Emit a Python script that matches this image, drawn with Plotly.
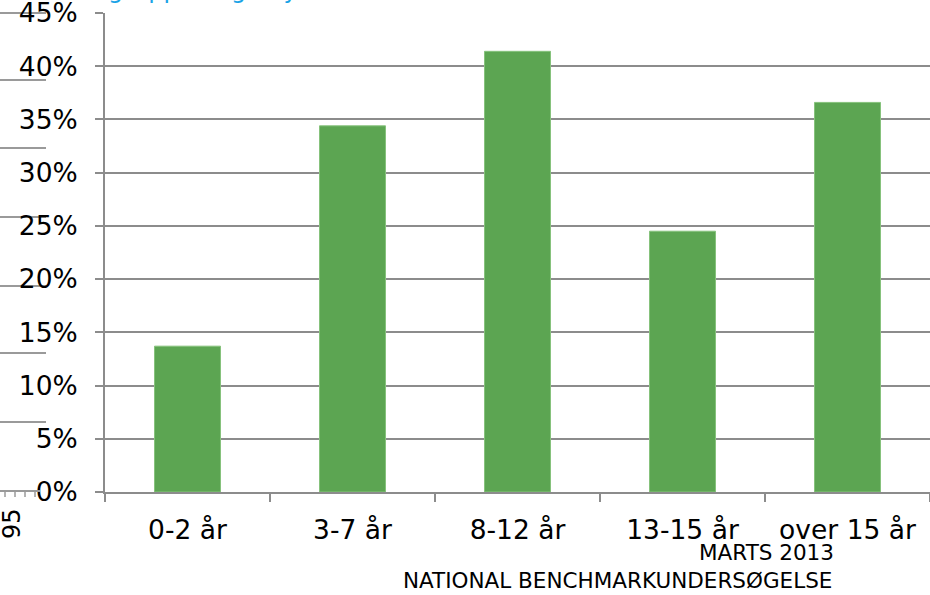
import plotly.graph_objects as go

categories = ["0-2 år", "3-7 år", "8-12 år", "13-15 år", "over 15 år"]
values = [13.7, 34.4, 41.4, 24.5, 36.6]
y_ticks = [0, 5, 10, 15, 20, 25, 30, 35, 40, 45]
y_tick_labels = ["0%", "5%", "10%", "15%", "20%", "25%", "30%", "35%", "40%", "45%"]
footer_date = "MARTS 2013"
footer_title = "NATIONAL BENCHMARKUNDERSØGELSE"
title_text = "gruppen og i byen"

W, H = 930, 595
L, R, T, B = 105, 0, 13, 103
PW, PH = W - L - R, H - T - B


def px(x):
    return (x - L) / PW


def py(y):
    return (H - B - y) / PH


GRID = "#8c8c8c"
FONT = "DejaVu Sans"

fig = go.Figure(
    go.Bar(
        x=categories,
        y=values,
        width=0.4,
        marker=dict(color="#5ca552", line=dict(color="#86c27c", width=1)),
        hoverinfo="skip",
    )
)

shapes = []
# stray lines from the underlying slide at the left edge
for yy in [13, 80, 148, 217, 286, 353, 422]:
    shapes.append(dict(type="line", xref="paper", yref="paper",
                       x0=px(0), x1=px(46), y0=py(yy), y1=py(yy),
                       line=dict(color="#9a9a9a", width=2), layer="below"))
shapes.append(dict(type="line", xref="paper", yref="paper",
                   x0=px(0), x1=px(40), y0=py(491), y1=py(491),
                   line=dict(color="#9a9a9a", width=2)))
for xx in [5, 15, 25, 35]:
    shapes.append(dict(type="line", xref="paper", yref="paper",
                       x0=px(xx), x1=px(xx), y0=py(491), y1=py(497),
                       line=dict(color="#9a9a9a", width=1.5)))

annotations = [
    dict(text=footer_date, xref="paper", yref="paper", x=px(766), y=py(552),
         xanchor="center", yanchor="middle", showarrow=False,
         font=dict(family=FONT, size=21.5, color="#000")),
    dict(text=footer_title, xref="paper", yref="paper", x=px(617), y=py(580),
         xanchor="center", yanchor="middle", showarrow=False,
         font=dict(family=FONT, size=21.5, color="#000")),
    dict(text="95", xref="paper", yref="paper", x=px(12), y=py(524),
         xanchor="center", yanchor="middle", showarrow=False, textangle=-90,
         font=dict(family=FONT, size=24, color="#000")),
    dict(text=title_text, xref="paper", yref="paper", x=px(106), y=py(6),
         xanchor="left", yanchor="bottom", showarrow=False,
         font=dict(family=FONT, size=24, color="#1aa3e6")),
]

fig.update_layout(
    width=W, height=H,
    margin=dict(l=L, r=R, t=T, b=B, autoexpand=False),
    paper_bgcolor="white", plot_bgcolor="white",
    showlegend=False,
    font=dict(family=FONT, size=26.5, color="#000"),
    shapes=shapes,
    annotations=annotations,
    xaxis=dict(
        type="category",
        automargin=False,
        tickson="boundaries",
        ticks="outside", ticklen=8, tickwidth=2, tickcolor=GRID,
        showline=True, linecolor=GRID, linewidth=2,
        showgrid=False,
        tickfont=dict(family=FONT, size=26.5),
        ticklabelstandoff=13,
        ticklabeloverflow="allow",
        range=[-0.5, 4.5],
    ),
    yaxis=dict(
        range=[0, 45],
        automargin=False,
        tickvals=y_ticks, ticktext=y_tick_labels,
        ticks="outside", ticklen=8, tickwidth=2, tickcolor=GRID,
        showline=True, linecolor=GRID, linewidth=2,
        showgrid=True, gridcolor=GRID, gridwidth=2,
        zeroline=False,
        ticklabelstandoff=12,
        ticklabeloverflow="allow",
        tickfont=dict(family=FONT, size=26.5),
    ),
)

fig.write_html(
    "out.html",
    config={"displayModeBar": False},
    post_script="document.body.style.margin='0';document.body.style.overflow='hidden';",
)
